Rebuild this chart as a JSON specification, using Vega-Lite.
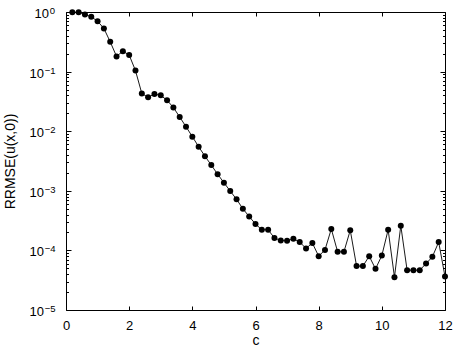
{
  "$schema": "https://vega.github.io/schema/vega-lite/v6.json",
  "width": 379,
  "height": 298,
  "autosize": {"type": "none"},
  "padding": {"left": 66, "top": 12, "right": 9, "bottom": 38},
  "background": "white",
  "config": {
    "view": {"stroke": "black", "strokeWidth": 1},
    "axis": {
      "domain": false,
      "grid": false,
      "labelFont": "Liberation Sans",
      "labelFontSize": 13,
      "labelColor": "black",
      "titleFont": "Liberation Sans",
      "titleFontSize": 14,
      "titleFontWeight": "normal",
      "titleColor": "black",
      "tickColor": "black",
      "tickWidth": 1
    }
  },
  "data": {
    "values": [
      {"c": 0.2, "v": 0.99}, {"c": 0.4, "v": 0.99}, {"c": 0.6, "v": 0.91}, {"c": 0.8, "v": 0.83},
      {"c": 1.0, "v": 0.70}, {"c": 1.2, "v": 0.53}, {"c": 1.4, "v": 0.316}, {"c": 1.6, "v": 0.18},
      {"c": 1.8, "v": 0.22}, {"c": 2.0, "v": 0.19}, {"c": 2.2, "v": 0.104}, {"c": 2.4, "v": 0.043},
      {"c": 2.6, "v": 0.037}, {"c": 2.8, "v": 0.042}, {"c": 3.0, "v": 0.040}, {"c": 3.2, "v": 0.033},
      {"c": 3.4, "v": 0.025}, {"c": 3.6, "v": 0.0173}, {"c": 3.8, "v": 0.0119}, {"c": 4.0, "v": 0.0081},
      {"c": 4.2, "v": 0.0055}, {"c": 4.4, "v": 0.0038}, {"c": 4.6, "v": 0.0027}, {"c": 4.8, "v": 0.0019},
      {"c": 5.0, "v": 0.00137}, {"c": 5.2, "v": 0.00099}, {"c": 5.4, "v": 0.00072}, {"c": 5.6, "v": 0.0005},
      {"c": 5.8, "v": 0.00037}, {"c": 6.0, "v": 0.000277}, {"c": 6.2, "v": 0.000222}, {"c": 6.4, "v": 0.000222},
      {"c": 6.6, "v": 0.000161}, {"c": 6.8, "v": 0.000147}, {"c": 7.0, "v": 0.000145}, {"c": 7.2, "v": 0.000157},
      {"c": 7.4, "v": 0.000138}, {"c": 7.6, "v": 0.000108}, {"c": 7.8, "v": 0.000133}, {"c": 8.0, "v": 0.00008},
      {"c": 8.2, "v": 0.000102}, {"c": 8.4, "v": 0.000229}, {"c": 8.6, "v": 0.0000947}, {"c": 8.8, "v": 0.0000947},
      {"c": 9.0, "v": 0.000218}, {"c": 9.2, "v": 0.0000546}, {"c": 9.4, "v": 0.0000545}, {"c": 9.6, "v": 0.00008},
      {"c": 9.8, "v": 0.000049}, {"c": 10.0, "v": 0.000082}, {"c": 10.2, "v": 0.000222}, {"c": 10.4, "v": 0.0000356},
      {"c": 10.6, "v": 0.00026}, {"c": 10.8, "v": 0.0000466}, {"c": 11.0, "v": 0.0000466}, {"c": 11.2, "v": 0.0000466},
      {"c": 11.4, "v": 0.00006}, {"c": 11.6, "v": 0.000078}, {"c": 11.8, "v": 0.000138}, {"c": 12.0, "v": 0.0000364}
    ]
  },
  "layer": [
    {
      "mark": {"type": "line", "color": "black", "strokeWidth": 0.9},
      "encoding": {
        "x": {
          "field": "c", "type": "quantitative",
          "scale": {"domain": [0, 12], "nice": false, "zero": false},
          "axis": {"orient": "bottom", "values": [0, 2, 4, 6, 8, 10, 12], "tickSize": -4, "labelPadding": 13, "title": "c", "titlePadding": 1.5, "labelFlush": false}
        },
        "y": {
          "field": "v", "type": "quantitative",
          "scale": {"type": "log", "domain": [0.00001, 1], "nice": false},
          "axis": {
            "orient": "left",
            "title": "RRMSE(u(x,0))",
            "titlePadding": 12,
            "ticks": false,
            "labelPadding": 22.5,
            "labelOffset": 1.5,
            "values": [0.00001, 0.0001, 0.001, 0.01, 0.1],
            "labelExpr": "'10'",
            "labelFlush": false
          }
        }
      }
    },
    {
      "mark": {"type": "point", "filled": true, "color": "black", "size": 36, "opacity": 1},
      "encoding": {
        "x": {
          "field": "c", "type": "quantitative",
          "axis": {"orient": "top", "values": [0, 2, 4, 6, 8, 10, 12], "tickSize": -4, "labels": false, "title": null}
        },
        "y": {
          "field": "v", "type": "quantitative",
          "axis": {
            "orient": "right", "labels": false, "title": null,
            "values": [0.00001, 0.00002, 0.00003, 0.00004, 0.00005, 0.00006, 0.00007, 0.00008, 0.00009,
                       0.0001, 0.0002, 0.0003, 0.0004, 0.0005, 0.0006, 0.0007, 0.0008, 0.0009,
                       0.001, 0.002, 0.003, 0.004, 0.005, 0.006, 0.007, 0.008, 0.009,
                       0.01, 0.02, 0.03, 0.04, 0.05, 0.06, 0.07, 0.08, 0.09,
                       0.1, 0.2, 0.3, 0.4, 0.5, 0.6, 0.7, 0.8, 0.9, 1],
            "tickSize": {"condition": {"test": "abs(log(datum.value)/LN10 - round(log(datum.value)/LN10)) < 0.001", "value": -5}, "value": -2.5}
          }
        }
      }
    },
    {
      "mark": {"type": "point", "opacity": 0},
      "encoding": {
        "x": {"field": "c", "type": "quantitative", "axis": null},
        "y": {
          "field": "v", "type": "quantitative",
          "axis": {
            "orient": "left", "title": null, "ticks": false,
            "values": [0.00001, 0.0001, 0.001, 0.01, 0.1],
            "labelAlign": "left",
            "labelFontSize": 9.5,
            "labelOffset": -1.5,
            "labelPadding": 21.7,
            "labelExpr": "'−' + abs(round(log(datum.value)/LN10))",
            "labelFlush": false
          }
        }
      }
    },
    {
      "mark": {"type": "point", "opacity": 0},
      "encoding": {
        "x": {"field": "c", "type": "quantitative", "axis": null},
        "y": {
          "field": "v", "type": "quantitative",
          "axis": {
            "orient": "left", "title": null, "ticks": false,
            "values": [1],
            "labelPadding": 17.5,
            "labelOffset": 1.5,
            "labelExpr": "'10'",
            "labelFlush": false
          }
        }
      }
    },
    {
      "mark": {"type": "point", "opacity": 0},
      "encoding": {
        "x": {"field": "c", "type": "quantitative", "axis": null},
        "y": {
          "field": "v", "type": "quantitative",
          "axis": {
            "orient": "left", "title": null, "ticks": false,
            "values": [1],
            "labelAlign": "left",
            "labelFontSize": 9.5,
            "labelOffset": -1.5,
            "labelPadding": 16.7,
            "labelExpr": "'0'",
            "labelFlush": false
          }
        }
      }
    },
    {
      "mark": {"type": "point", "opacity": 0},
      "encoding": {
        "x": {"field": "c", "type": "quantitative", "axis": null},
        "y": {
          "field": "v", "type": "quantitative",
          "axis": {
            "orient": "left", "labels": false, "title": null,
            "values": [0.00001, 0.00002, 0.00003, 0.00004, 0.00005, 0.00006, 0.00007, 0.00008, 0.00009,
                       0.0001, 0.0002, 0.0003, 0.0004, 0.0005, 0.0006, 0.0007, 0.0008, 0.0009,
                       0.001, 0.002, 0.003, 0.004, 0.005, 0.006, 0.007, 0.008, 0.009,
                       0.01, 0.02, 0.03, 0.04, 0.05, 0.06, 0.07, 0.08, 0.09,
                       0.1, 0.2, 0.3, 0.4, 0.5, 0.6, 0.7, 0.8, 0.9, 1],
            "tickSize": {"condition": {"test": "abs(log(datum.value)/LN10 - round(log(datum.value)/LN10)) < 0.001", "value": -5}, "value": -2.5}
          }
        }
      }
    }
  ],
  "resolve": {"axis": {"x": "independent", "y": "independent"}}
}
